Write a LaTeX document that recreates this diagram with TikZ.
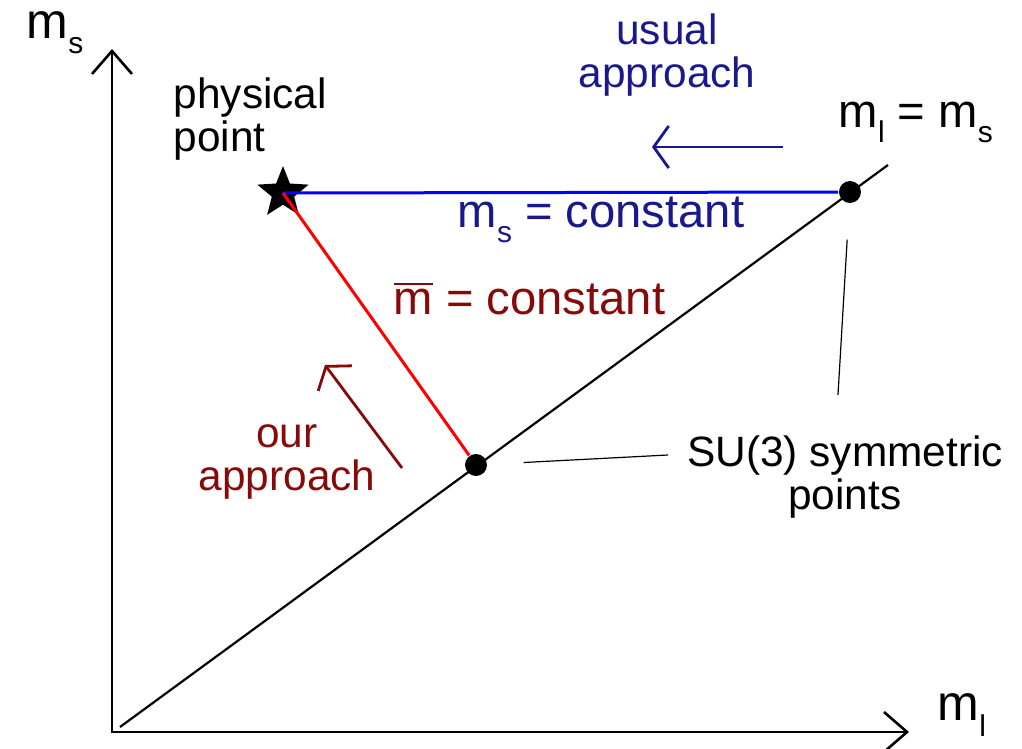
\documentclass[tikz,border=0pt]{standalone}
\usepackage{fontspec}
\setmainfont{Liberation Sans}
\usepackage{xcolor}
\usetikzlibrary{shapes.geometric, arrows.meta, positioning, calc}
\definecolor{Usual_Blue}{RGB}{25,25,140}
\definecolor{Our_Red}{RGB}{135,10,10}
\newcommand{\lowidx}[1]{\raisebox{-3.8pt}{\fontsize{7.5}{7.5}\selectfont #1}}

\begin{document}
\begin{tikzpicture}[
    x=0.25pt, y=-0.25pt,
    note/.style={align=center, inner sep=0pt, font=\fontsize{10.6}{10.8}\selectfont},
    eqn/.style={inner sep=0pt, font=\fontsize{11.8}{12}\selectfont},
    axisline/.style={line width=0.65pt, {Straight Barb[length=5.75pt, width=10pt]}-{Straight Barb[length=5.75pt, width=10pt]}},
    dot/.style={circle, fill=black, inner sep=0pt, minimum size=5.5pt},
    move/.style={line width=0.7pt, -{Straight Barb[length=3.75pt, width=10.5pt]}},
    leader/.style={line width=0.3pt, shorten <=9pt}
]
\useasboundingbox (0,0) rectangle (1022,749);

\coordinate (origin) at (112,732);
\coordinate (ytop) at (112,49);
\coordinate (xend) at (909,732);
\coordinate (diagstart) at (120,727);
\coordinate (diagend) at (888,165);

\node[star, star points=5, star point ratio=2.3, fill=black, inner sep=0pt, minimum size=13.5pt] (phys) at (283,193) {};
\node[dot] (symup) at (850,192) {};
\node[dot] (symlow) at (476,465) {};

\draw[axisline] (ytop) -- (origin) -- (xend);
\draw[line width=0.55pt] (diagstart) -- (diagend);
\draw[line width=0.75pt, blue] (phys.center) -- (symup);
\draw[line width=0.75pt, red] (phys.center) -- (symlow);

\node[eqn, font=\fontsize{12.5}{13}\selectfont] (msaxis) at (55,33) {m\lowidx{s}};
\node[eqn, font=\fontsize{12.5}{13}\selectfont] (mlaxis) at (962,715) {m\lowidx{l}};
\node[note, anchor=north west, align=left] (physlabel) at (173,77) {physical\\point};
\node[note, text=Usual_Blue] (usuallabel) at (667,55) {usual\\approach};
\node[note, text=Our_Red] (ourlabel) at (287,462) {our\\approach};
\node[note] (symlabel) at (845,477) {SU(3) symmetric\\points};
\node[eqn, anchor=base west] (diaglabel) at (838,127) {m\lowidx{l} = m\lowidx{s}};
\node[eqn, anchor=base west, text=Usual_Blue] (msconst) at (457,227) {m\lowidx{s} = constant};
\node[eqn, anchor=base west, text=Our_Red] (mbarconst) at (393,315) {$\overline{\hbox{m}}$ = constant};

\coordinate (usualfrom) at (783,147);
\coordinate (usualto) at (652,147);
\coordinate (ourfrom) at (402,468);
\coordinate (ourto) at (325,365);
\draw[move, Usual_Blue] (usualfrom) -- (usualto);
\draw[move, Our_Red] (ourfrom) -- (ourto);

\coordinate (symlowend) at (668,455);
\coordinate (symupend) at (838,395);
\draw[leader] (symlow) -- (symlowend);
\draw[leader] (symup) -- (symupend);

\end{tikzpicture}
\end{document}
